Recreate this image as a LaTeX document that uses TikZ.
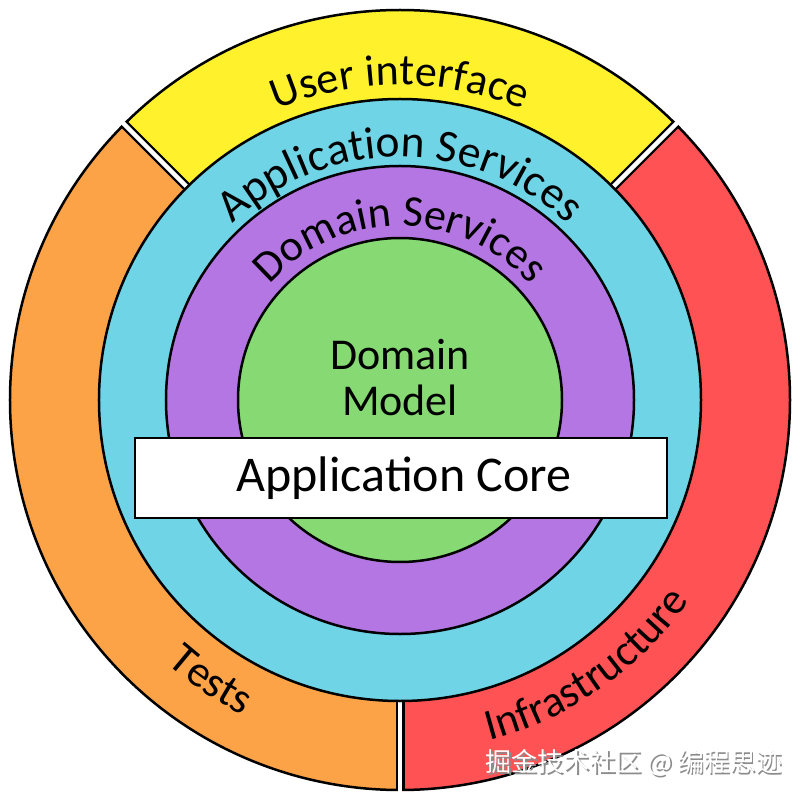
\documentclass[tikz,border=0pt]{standalone}
\usepackage{fontspec}
\setmainfont{Carlito}
\newfontfamily\cjkfont{Noto Sans CJK SC}
\usetikzlibrary{decorations.text}
\definecolor{uiyellow}{RGB}{255,242,44}
\definecolor{testorange}{RGB}{252,163,72}
\definecolor{infrared}{RGB}{255,82,84}
\definecolor{appblue}{RGB}{110,212,230}
\definecolor{dompurple}{RGB}{180,118,226}
\definecolor{modelgreen}{RGB}{134,217,115}
\begin{document}
\begin{tikzpicture}[x=1pt,y=1pt,
  ring/.style={draw=black, line width=2.5pt},
  arctext/.style 2 args={decorate, decoration={text along path, text align=center,
     text={|\fontsize{#1}{50}\selectfont|#2}}}]
\useasboundingbox (-400,-400) rectangle (400,400);
\fill[white] (-400,-400) rectangle (400,400);
% outer ring sectors
\filldraw[ring, fill=uiyellow] (0,0) -- (45:390) arc[start angle=45, end angle=135, radius=390] -- cycle;
\filldraw[ring, fill=testorange] (0,0) -- (135:390) arc[start angle=135, end angle=270, radius=390] -- cycle;
\filldraw[ring, fill=infrared] (0,0) -- (270:390) arc[start angle=270, end angle=405, radius=390] -- cycle;
% gaps
\foreach \a in {45,135,270} {
  \draw[black, line width=9pt] (\a:290) -- (\a:390);
  \draw[white, line width=4.5pt] (\a:290) -- (\a:396);
}
% inner circles
\filldraw[ring, fill=appblue] (0,0) circle[radius=301];
\filldraw[ring, fill=dompurple] (0,0) circle[radius=234];
\filldraw[ring, fill=modelgreen] (0,0) circle[radius=162];
% curved labels
\path[arctext={44}{User interface}] (135:315) arc[start angle=135, end angle=45, radius=315];
\path[arctext={45.5}{Application Services}] (150:243) arc[start angle=150, end angle=30, radius=243];
\path[arctext={44}{Domain Services}] (160:174) arc[start angle=160, end angle=20, radius=174];
\path[arctext={44}{Tests}] (206:352) arc[start angle=206, end angle=266, radius=352];
\path[arctext={44}{Infrastructure}] (270:352) arc[start angle=270, end angle=340, radius=352];
% centre
\node[align=center, font=\fontsize{44}{46}\selectfont, inner sep=0] (model) at (0,22) {Domain\\Model};
\node[draw=black, line width=2.5pt, fill=white, minimum width=532, minimum height=80, inner sep=0,
  font=\fontsize{50}{60}\selectfont] (core) at (1,-78) {\hspace*{6pt}Application Core};
% watermark
\node[text=black!45, font=\cjkfont\fontsize{26}{30}\selectfont, inner sep=0] (wmshadow) at (235.5,-364.5) {掘金技术社区 @ 编程思迹};
\node[text=white, font=\cjkfont\fontsize{26}{30}\selectfont, inner sep=0] (wm) at (234,-363) {掘金技术社区 @ 编程思迹};
\end{tikzpicture}
\end{document}
